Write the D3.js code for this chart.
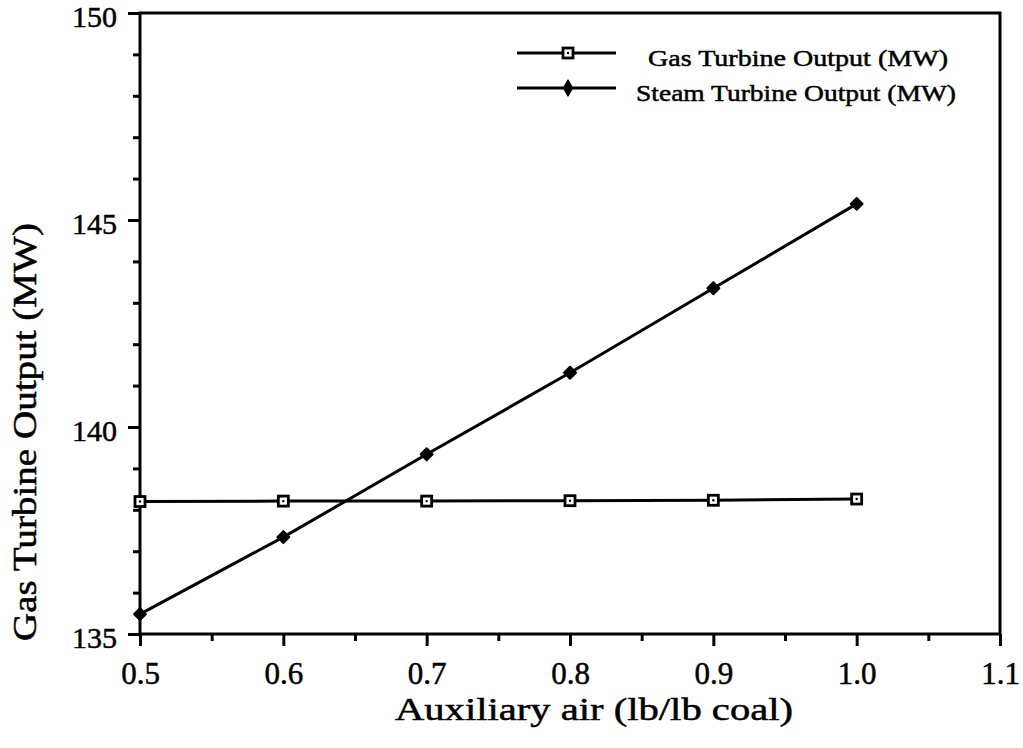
<!DOCTYPE html>
<html>
<head>
<meta charset="utf-8">
<script src="https://cdn.jsdelivr.net/npm/d3@7"></script>
<style>
  html, body { margin: 0; padding: 0; background: #fff; }
  svg { display: block; }
  text { font-family: "Liberation Serif", "Times New Roman", serif; fill: #000; stroke: #000; stroke-width: 0.5px; }
</style>
</head>
<body>
<svg id="chart" width="1023" height="748"></svg>
<script>
// Auxiliary air ratio (lb air per lb coal)
const auxAir = [0.5, 0.6, 0.7, 0.8, 0.9, 1.0];
// Turbine outputs (MW)
const gasTurbine = [138.20, 138.21, 138.21, 138.22, 138.23, 138.26];
const steamTurbine = [135.48, 137.34, 139.34, 141.31, 143.35, 145.39];

const xTicks = [0.5, 0.6, 0.7, 0.8, 0.9, 1.0, 1.1];
const xMinorTicks = [0.55, 0.65, 0.75, 0.85, 0.95, 1.05];
const yTicks = [135, 140, 145, 150];
const yMinorTicks = [136, 137, 138, 139, 141, 142, 143, 144, 146, 147, 148, 149];

const seriesNames = ["Gas Turbine Output (MW)", "Steam Turbine Output (MW)"];
const xTitle = "Auxiliary air (lb/lb coal)";
const yTitle = "Gas Turbine Output (MW)";

const svg = d3.select("#chart");
const plotLeft = 140, plotRight = 1000, plotTop = 13, plotBottom = 634;

const x = d3.scaleLinear().domain([0.5, 1.1]).range([plotLeft, plotRight]);
const y = d3.scaleLinear().domain([135, 150]).range([plotBottom, plotTop]);

// Minor ticks (shorter, unlabelled)
svg.append("g")
  .attr("transform", `translate(0,${plotBottom})`)
  .call(d3.axisBottom(x).tickValues(xMinorTicks).tickSize(7).tickFormat(""))
  .call(g => g.select(".domain").remove())
  .call(g => g.selectAll("line").attr("stroke-width", 3));
svg.append("g")
  .attr("transform", `translate(${plotLeft},0)`)
  .call(d3.axisLeft(y).tickValues(yMinorTicks).tickSize(7).tickFormat(""))
  .call(g => g.select(".domain").remove())
  .call(g => g.selectAll("line").attr("stroke-width", 3));

// Major ticks with labels
svg.append("g")
  .attr("transform", `translate(0,${plotBottom})`)
  .call(d3.axisBottom(x).tickValues(xTicks).tickSize(12).tickPadding(16).tickFormat(d3.format(".1f")))
  .call(g => g.select(".domain").remove())
  .call(g => g.selectAll("line").attr("stroke-width", 3))
  .call(g => g.selectAll("text").attr("font-size", 31));
svg.append("g")
  .attr("transform", `translate(${plotLeft},0)`)
  .call(d3.axisLeft(y).tickValues(yTicks).tickSize(12).tickPadding(11).tickFormat(d3.format("d")))
  .call(g => g.select(".domain").remove())
  .call(g => g.selectAll("line").attr("stroke-width", 3))
  .call(g => g.selectAll("text").attr("font-size", 30).attr("dy", "0.45em"));

// Plot frame
svg.append("rect")
  .attr("x", plotLeft).attr("y", plotTop)
  .attr("width", plotRight - plotLeft).attr("height", plotBottom - plotTop)
  .attr("fill", "none").attr("stroke", "#000").attr("stroke-width", 3);

// Axis titles
svg.append("text")
  .attr("x", 395).attr("y", 720)
  .attr("font-size", 32)
  .attr("textLength", 398).attr("lengthAdjust", "spacingAndGlyphs")
  .text(xTitle);
svg.append("text")
  .attr("transform", `translate(36,641) rotate(-90)`)
  .attr("font-size", 34)
  .attr("textLength", 418).attr("lengthAdjust", "spacingAndGlyphs")
  .text(yTitle);

// Series lines
const line = d3.line().x((d, i) => x(auxAir[i])).y(d => y(d));
svg.append("path").datum(gasTurbine)
  .attr("d", line).attr("fill", "none").attr("stroke", "#000").attr("stroke-width", 3);
svg.append("path").datum(steamTurbine)
  .attr("d", line).attr("fill", "none").attr("stroke", "#000").attr("stroke-width", 3);

// Markers
function squareMarker(g, cx, cy) {
  g.append("rect").attr("x", cx - 5).attr("y", cy - 5).attr("width", 10).attr("height", 10)
    .attr("fill", "#fff").attr("stroke", "#000").attr("stroke-width", 2.8);
  g.append("circle").attr("cx", cx).attr("cy", cy).attr("r", 1.2).attr("fill", "#000");
}
const pointDiamond = d3.symbol().type(d3.symbolSquare).size(72);
function pointMarker(g, cx, cy) {
  g.append("path").attr("d", pointDiamond).attr("transform", `translate(${cx},${cy}) rotate(45)`)
    .attr("fill", "#000").attr("stroke", "#000").attr("stroke-width", 2).attr("stroke-linejoin", "round");
}
const legendDiamond = d3.symbol().type(d3.symbolDiamond).size(70);
function legendMarker(g, cx, cy) {
  g.append("path").attr("d", legendDiamond).attr("transform", `translate(${cx},${cy})`)
    .attr("fill", "#000").attr("stroke", "#000").attr("stroke-width", 1.5).attr("stroke-linejoin", "round");
}
const gasG = svg.append("g");
gasTurbine.forEach((v, i) => squareMarker(gasG, x(auxAir[i]), y(v)));
const steamG = svg.append("g");
steamTurbine.forEach((v, i) => pointMarker(steamG, x(auxAir[i]), y(v)));

// Legend
const legend = svg.append("g");
const legendRows = [
  { name: seriesNames[0], ly: 53, ty: 66, tx: 648, len: 300, marker: squareMarker },
  { name: seriesNames[1], ly: 88, ty: 101, tx: 636, len: 320, marker: legendMarker }
];
legendRows.forEach(r => {
  legend.append("line").attr("x1", 517).attr("x2", 616).attr("y1", r.ly).attr("y2", r.ly)
    .attr("stroke", "#000").attr("stroke-width", 3);
  r.marker(legend, 568, r.ly);
  legend.append("text").attr("x", r.tx).attr("y", r.ty)
    .attr("font-size", 24)
    .attr("textLength", r.len).attr("lengthAdjust", "spacingAndGlyphs")
    .text(r.name);
});
</script>
</body>
</html>
